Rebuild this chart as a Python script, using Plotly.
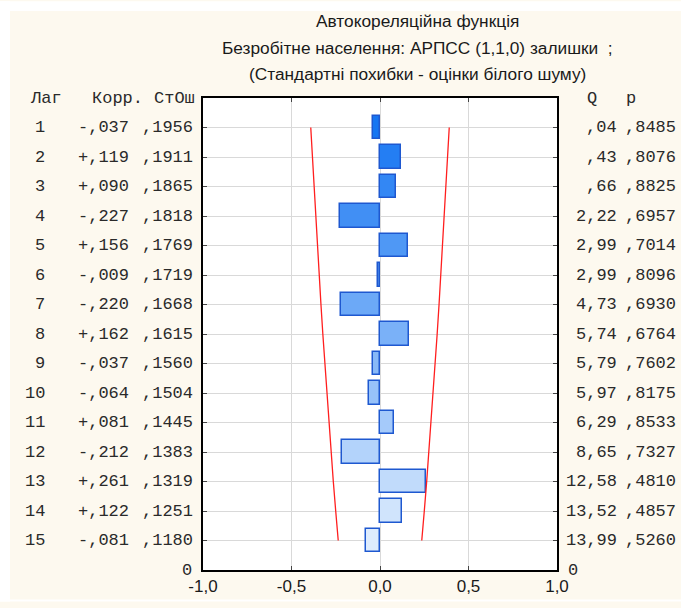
import plotly.graph_objects as go

# ---- data ----
lags = list(range(1, 16))
corr = [-0.037, 0.119, 0.090, -0.227, 0.156, -0.009, -0.220, 0.162,
        -0.037, -0.064, 0.081, -0.212, 0.261, 0.122, -0.081]
se = [0.1956, 0.1911, 0.1865, 0.1818, 0.1769, 0.1719, 0.1668, 0.1615,
      0.1560, 0.1504, 0.1445, 0.1383, 0.1319, 0.1251, 0.1180]
corr_txt = ["-,037", "+,119", "+,090", "-,227", "+,156", "-,009", "-,220", "+,162",
            "-,037", "-,064", "+,081", "-,212", "+,261", "+,122", "-,081"]
se_txt = [",1956", ",1911", ",1865", ",1818", ",1769", ",1719", ",1668", ",1615",
          ",1560", ",1504", ",1445", ",1383", ",1319", ",1251", ",1180"]
q_txt = [",04", ",43", ",66", "2,22", "2,99", "2,99", "4,73", "5,74",
         "5,79", "5,97", "6,29", "8,65", "12,58", "13,52", "13,99"]
p_txt = [",8485", ",8076", ",8825", ",6957", ",7014", ",8096", ",6930", ",6764",
         ",7602", ",8175", ",8533", ",7327", ",4810", ",4857", ",5260"]
x_ticks = [-1.0, -0.5, 0.0, 0.5, 1.0]
x_ticklabels = ["-1,0", "-0,5", "0,0", "0,5", "1,0"]
title_lines = ["Автокореляційна функція",
               "Безробітне населення: АРПСС (1,1,0) залишки  ;",
               "(Стандартні похибки - оцінки білого шуму)"]

# ---- layout geometry (page pixels) ----
W, H = 681, 608
L, R, T, B = 203, 557, 98, 576          # plot area in page pixels
NY = 16
ypos = [NY - k for k in lags]


def px_x(px):
    return (px - L) / (R - L)


def px_y(py):
    return (B - py) / (B - T)


# bar colour gradient (dark blue -> pale blue)
c0 = (22, 118, 242)
c1 = (222, 236, 253)
n = len(lags)
colors = []
for i in range(n):
    t = i / (n - 1)
    colors.append("rgb(%d,%d,%d)" % tuple(round(c0[j] + (c1[j] - c0[j]) * t) for j in range(3)))

fig = go.Figure()
fig.add_trace(go.Bar(
    x=corr, y=ypos, orientation="h", width=0.8,
    marker=dict(color=colors, line=dict(color="rgb(30,88,208)", width=1.5)),
    showlegend=False, hoverinfo="skip"))
fig.add_trace(go.Scatter(
    x=[-2 * s for s in se], y=ypos, mode="lines",
    line=dict(color="rgb(255,30,30)", width=1.3), showlegend=False, hoverinfo="skip"))
fig.add_trace(go.Scatter(
    x=[2 * s for s in se], y=ypos, mode="lines",
    line=dict(color="rgb(255,30,30)", width=1.3), showlegend=False, hoverinfo="skip"))

mono = dict(family="Liberation Mono, Courier New, monospace", size=17, color="#2a2a2a")
sans = dict(family="Liberation Sans, Arial, sans-serif", size=17.3, color="#1a1a1a")

ann = []
# header
ann.append(dict(text="Лаг", x=px_x(28), y=NY, xanchor="left"))
ann.append(dict(text="Корр.", x=px_x(90), y=NY, xanchor="left"))
ann.append(dict(text="СтОш", x=px_x(197), y=NY, xanchor="right"))
ann.append(dict(text="Q", x=px_x(592), y=NY, xanchor="center"))
ann.append(dict(text="p", x=px_x(631), y=NY, xanchor="center"))
for k, yv, ct, st, qt, pt in zip(lags, ypos, corr_txt, se_txt, q_txt, p_txt):
    ann.append(dict(text=str(k), x=px_x(47), y=yv, xanchor="right"))
    ann.append(dict(text=ct, x=px_x(131), y=yv, xanchor="right"))
    ann.append(dict(text=st, x=px_x(195), y=yv, xanchor="right"))
    ann.append(dict(text=qt, x=px_x(619), y=yv, xanchor="right"))
    ann.append(dict(text=pt, x=px_x(678), y=yv, xanchor="right"))
ann.append(dict(text="0", x=px_x(194), y=0, xanchor="right"))
ann.append(dict(text="0", x=px_x(566), y=0, xanchor="left"))

annotations = []
for a in ann:
    a.update(xref="paper", yref="y", yanchor="middle", showarrow=False, font=mono)
    annotations.append(a)

for line, py in zip(title_lines, [20, 47, 74]):
    annotations.append(dict(text=line, xref="paper", yref="paper", x=px_x(417), y=px_y(py),
                            xanchor="center", yanchor="middle", showarrow=False, font=sans))

shapes = [
    dict(type="rect", xref="paper", yref="paper", x0=px_x(0), x1=px_x(W),
         y0=px_y(10), y1=px_y(0), fillcolor="white", line=dict(width=0), layer="below"),
    dict(type="rect", xref="paper", yref="paper", x0=px_x(0), x1=px_x(10),
         y0=px_y(H), y1=px_y(0), fillcolor="white", line=dict(width=0), layer="below"),
    dict(type="rect", xref="paper", yref="paper", x0=px_x(0), x1=px_x(W),
         y0=px_y(H), y1=px_y(606), fillcolor="white", line=dict(width=0), layer="below"),
]

fig.update_layout(
    width=W, height=H, autosize=False,
    margin=dict(l=L, r=W - R, t=T, b=H - B, pad=0),
    paper_bgcolor="rgb(253,249,239)", plot_bgcolor="white",
    annotations=annotations, shapes=shapes, bargap=0,
    xaxis=dict(range=[-1, 1], tickvals=x_ticks, ticktext=x_ticklabels,
               showgrid=True, gridcolor="#d9d9d9", gridwidth=1, zeroline=False,
               showline=True, linecolor="black", linewidth=2, mirror="ticks",
               ticks="inside", ticklen=4, tickcolor="#444", tickwidth=1,
               tickfont=dict(family="Liberation Sans, Arial, sans-serif", size=17, color="#1a1a1a"),
               fixedrange=True),
    yaxis=dict(range=[0, NY], tickvals=[0] + ypos, showticklabels=False,
               showgrid=True, gridcolor="#d9d9d9", gridwidth=1, zeroline=False,
               showline=True, linecolor="black", linewidth=2, mirror="ticks",
               ticks="inside", ticklen=4, tickcolor="#444", tickwidth=1,
               fixedrange=True),
)

fig.write_html(
    "out.html",
    config={"displayModeBar": False},
    post_script="document.body.style.margin='0px';document.body.style.overflow='hidden';",
)
